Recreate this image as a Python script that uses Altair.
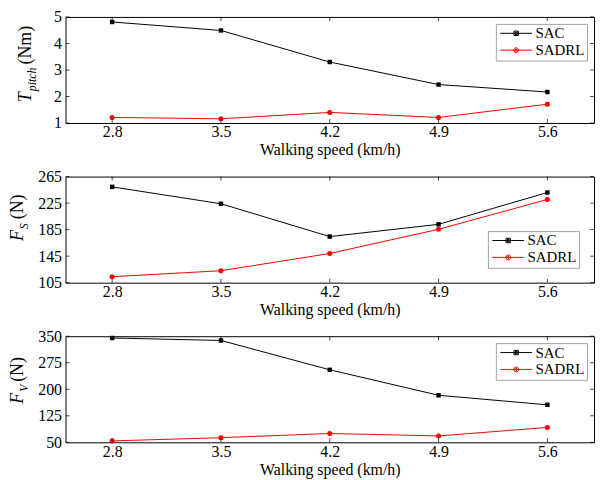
import altair as alt
import pandas as pd

# ---------------- data ----------------
speeds = [2.8, 3.5, 4.2, 4.9, 5.6]
series_names = ["SAC", "SADRL"]
series_colors = ["#000000", "#ff0000"]

t_pitch_sac = [4.81, 4.49, 3.30, 2.45, 2.17]
t_pitch_sadrl = [1.21, 1.16, 1.40, 1.21, 1.71]

fs_sac = [249.5, 224.0, 174.5, 193.0, 241.0]
fs_sadrl = [114.0, 123.0, 149.0, 185.5, 230.5]

fv_sac = [345.0, 338.0, 255.0, 183.0, 156.0]
fv_sadrl = [54.0, 63.0, 75.0, 68.0, 92.0]

t_ticks = [1, 2, 3, 4, 5]
fs_ticks = [105, 145, 185, 225, 265]
fv_ticks = [50, 125, 200, 275, 350]

x_title = "Walking speed (km/h)"

# ---------------- style ----------------
FONT = "Liberation Serif"
W, H = 533, 107
XDOM = [2.5, 5.9]

# legend symbols (unit = 5px): line from entry x=0 to x=32 with a marker at x=16
SQ_PATH = ("M-1,0L5.4,0"
           "M1.75,-0.45L2.65,-0.45L2.65,0.45L1.75,0.45Z"
           "M1.975,-0.225L2.425,-0.225L2.425,0.225L1.975,0.225Z")
CI_PATH = ("M-1,0L5.4,0"
           "M2.7,0L2.554,0.354L2.2,0.5L1.846,0.354L1.7,0L1.846,-0.354L2.2,-0.5L2.554,-0.354Z"
           "M2.45,0L2.2,0.25L1.95,0L2.2,-0.25Z")


def panel(sac, sadrl, ydom, yticks, title_parts, legend_orient, legend_offset):
    df = pd.DataFrame({
        "speed": speeds * 2,
        "value": sac + sadrl,
        "series": ["SAC"] * len(sac) + ["SADRL"] * len(sadrl),
    })
    base = alt.Chart(df)
    x = alt.X("speed:Q",
              scale=alt.Scale(domain=XDOM, nice=False, zero=False),
              axis=alt.Axis(values=speeds, tickCount=20, format=".1f", title=x_title,
                            grid=False, ticks=False, domain=False,
                            labelOverlap=False, labelPadding=1, titlePadding=2))
    y = alt.Y("value:Q",
              scale=alt.Scale(domain=ydom, nice=False, zero=False),
              axis=alt.Axis(values=yticks, tickCount=20, format=".0f", title=None,
                            grid=False, ticks=False, domain=False,
                            labelOverlap=False, labelPadding=4))

    sac_df = base.transform_filter("datum.series == 'SAC'")
    sadrl_df = base.transform_filter("datum.series == 'SADRL'")
    line_sac = sac_df.mark_line(strokeWidth=1, color=series_colors[0]).encode(x=x, y=y)
    line_sadrl = sadrl_df.mark_line(strokeWidth=1, color=series_colors[1]).encode(x=x, y=y)
    squares = sac_df.mark_point(shape="square", filled=True, size=20, opacity=1,
                                color=series_colors[0]).encode(x=x, y=y)
    circles = sadrl_df.mark_point(shape="circle", filled=True, size=26, opacity=1,
                                  color=series_colors[1]).encode(x=x, y=y)

    leg = alt.Legend(title=None, orient=legend_orient, offset=legend_offset,
                     symbolSize=100, symbolStrokeWidth=1, symbolOpacity=1,
                     labelFont=FONT, labelFontSize=15, labelColor="black",
                     labelOffset=23, padding=2, rowPadding=1,
                     strokeColor="#a0a0a0", fillColor="white")
    legend_layer = base.mark_point(filled=False, opacity=0, strokeWidth=1).encode(
        x=x, y=y,
        color=alt.Color("series:N", scale=alt.Scale(domain=series_names, range=series_colors), legend=leg),
        shape=alt.Shape("series:N", scale=alt.Scale(domain=series_names, range=[SQ_PATH, CI_PATH]), legend=leg),
    )

    # inward tick marks (box ticks)
    xt = alt.Chart(pd.DataFrame({"t": speeds}))
    yt = alt.Chart(pd.DataFrame({"t": yticks}))
    xs = alt.X("t:Q", scale=alt.Scale(domain=XDOM, nice=False, zero=False))
    ys = alt.Y("t:Q", scale=alt.Scale(domain=ydom, nice=False, zero=False))
    tick_b = xt.mark_tick(orient="vertical", size=4, thickness=1, color="black").encode(x=xs, y=alt.value(H - 2))
    tick_t = xt.mark_tick(orient="vertical", size=4, thickness=1, color="black").encode(x=xs, y=alt.value(2))
    tick_l = yt.mark_tick(orient="horizontal", size=4, thickness=1, color="black").encode(y=ys, x=alt.value(2))
    tick_r = yt.mark_tick(orient="horizontal", size=4, thickness=1, color="black").encode(y=ys, x=alt.value(W - 2))

    # y axis title pieces (rotated), with italic subscript
    titles = []
    for txt, size, style, ypos, xpos in title_parts:
        titles.append(
            alt.Chart(pd.DataFrame({"s": [txt]})).mark_text(
                angle=270, align="left", baseline="middle", font=FONT,
                fontSize=size, fontStyle=style, color="black").encode(
                text="s:N", x=alt.value(xpos), y=alt.value(ypos)))

    return alt.layer(line_sac, line_sadrl, squares, circles, legend_layer,
                     tick_b, tick_t, tick_l, tick_r, *titles).properties(width=W, height=H)


p1 = panel(t_pitch_sac, t_pitch_sadrl, [1, 5], t_ticks,
           [("T", 18, "italic", 86, -40),
            ("pitch", 12, "italic", 75, -34),
            ("(Nm)", 18, "normal", 48, -40)], "top-right", 7)
p2 = panel(fs_sac, fs_sadrl, [105, 265], fs_ticks,
           [("F", 18, "italic", 65, -48),
            ("S", 12, "italic", 53, -42),
            ("(N)", 18, "normal", 43, -48)], "bottom-right", 15)
p3 = panel(fv_sac, fv_sadrl, [50, 350], fv_ticks,
           [("F", 18, "italic", 68, -48),
            ("V", 12, "italic", 56, -42),
            ("(N)", 18, "normal", 46, -48)], "top-right", 7)

chart = alt.vconcat(p1, p2, p3, spacing=9).resolve_scale(
    color="independent", shape="independent"
).resolve_legend(
    color="independent", shape="independent"
).properties(
    padding={"left": 0, "top": -2, "right": 0, "bottom": 0}
).configure_view(
    stroke="black", strokeWidth=1
).configure_axis(
    labelFont=FONT, labelFontSize=16, labelColor="black",
    titleFont=FONT, titleFontSize=16, titleFontWeight="normal", titleColor="black"
).configure_legend(
    labelFont=FONT, labelFontSize=15, labelColor="black"
)

chart.save("out.html", embed_options={"renderer": "svg", "actions": False})
